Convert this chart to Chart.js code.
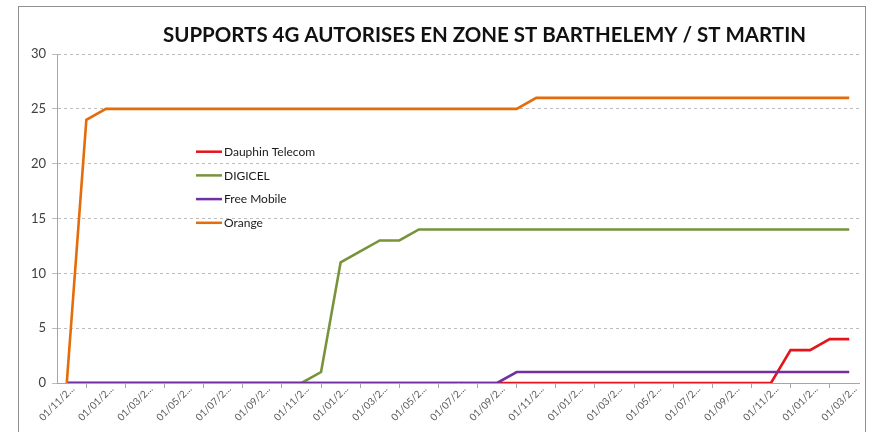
<!DOCTYPE html>
<html>
<head>
<meta charset="utf-8">
<script src="https://cdn.jsdelivr.net/npm/chart.js@4.4.1/dist/chart.umd.min.js"></script>
<style>
  html, body { margin: 0; padding: 0; background: #fff; overflow: hidden; }
  #wrap { position: relative; width: 873px; height: 432px; }
  #frame { position: absolute; left: 18px; top: 6px; width: 848px; height: 440px; border: 1px solid #8f8f8f; box-sizing: border-box; pointer-events: none; }
  canvas { position: absolute; left: 0; top: 0; }
</style>
</head>
<body>
<div id="wrap">
  <canvas id="c" width="873" height="432"></canvas>
  <div id="frame"></div>
</div>
<script>
const chartTitle = "SUPPORTS 4G AUTORISES EN ZONE ST BARTHELEMY / ST MARTIN";

const dates = [
  "01/11/2016","01/12/2016","01/01/2017","01/02/2017","01/03/2017","01/04/2017","01/05/2017","01/06/2017",
  "01/07/2017","01/08/2017","01/09/2017","01/10/2017","01/11/2017","01/12/2017","01/01/2018","01/02/2018",
  "01/03/2018","01/04/2018","01/05/2018","01/06/2018","01/07/2018","01/08/2018","01/09/2018","01/10/2018",
  "01/11/2018","01/12/2018","01/01/2019","01/02/2019","01/03/2019","01/04/2019","01/05/2019","01/06/2019",
  "01/07/2019","01/08/2019","01/09/2019","01/10/2019","01/11/2019","01/12/2019","01/01/2020","01/02/2020",
  "01/03/2020"
];

const seriesNames = ["Dauphin Telecom", "DIGICEL", "Free Mobile", "Orange"];

const dauphin = [0,0,0,0,0,0,0,0,0,0, 0,0,0,0,0,0,0,0,0,0, 0,0,0,0,0,0,0,0,0,0, 0,0,0,0,0,0,0, 3,3,4,4];
const digicel = [0,0,0,0,0,0,0,0,0,0, 0,0,0, 1,11,12,13,13, 14,14,14,14,14,14,14,14,14,14, 14,14,14,14,14,14,14,14,14,14, 14,14,14];
const freeMobile = [0,0,0,0,0,0,0,0,0,0, 0,0,0,0,0,0,0,0,0,0, 0,0,0, 1,1,1,1,1,1,1,1,1,1, 1,1,1,1,1,1,1,1];
const orange = [0,24, 25,25,25,25,25,25,25,25,25,25, 25,25,25,25,25,25,25,25,25,25, 25,25, 26,26,26,26,26,26,26,26,26,26, 26,26,26,26,26,26,26];

const yTicks = [0, 5, 10, 15, 20, 25, 30];

const colors = ["#e3141c", "#77933c", "#7030a0", "#e46c0a"];
const seriesData = [dauphin, digicel, freeMobile, orange];

const titlePlugin = {
  id: 'excelTitle',
  afterDraw(chart) {
    const ctx = chart.ctx;
    ctx.save();
    ctx.font = 'bold 21px Lato, "Open Sans", sans-serif';
    ctx.fillStyle = '#111';
    ctx.textAlign = 'center';
    ctx.textBaseline = 'alphabetic';
    ctx.fillText(chartTitle, 484.5, 42, 643);
    ctx.restore();
  }
};

const legendPlugin = {
  id: 'innerLegend',
  afterDraw(chart) {
    const ctx = chart.ctx;
    const a = chart.chartArea;
    ctx.save();
    ctx.font = '12px Lato, "Open Sans", sans-serif';
    ctx.textBaseline = 'middle';
    ctx.textAlign = 'left';
    chart.data.datasets.forEach((ds, i) => {
      const y = a.top + 97.7 + i * 23.7;
      const x0 = a.left + 139;
      ctx.strokeStyle = ds.borderColor;
      ctx.lineWidth = 2.5;
      ctx.beginPath();
      ctx.moveTo(x0, y);
      ctx.lineTo(x0 + 26, y);
      ctx.stroke();
      ctx.fillStyle = '#1a1a1a';
      ctx.fillText(ds.label, x0 + 28, y + 0.5);
    });
    ctx.restore();
  }
};

new Chart(document.getElementById('c'), {
  type: 'line',
  data: {
    labels: dates,
    datasets: seriesNames.map((name, i) => ({
      label: name,
      data: seriesData[i],
      borderColor: colors[i],
      backgroundColor: colors[i],
      borderWidth: 2.6,
      pointRadius: 0,
      tension: 0,
      order: 4 - i
    }))
  },
  options: {
    responsive: false,
    animation: false,
    events: [],
    layout: { padding: { left: 0, right: 14, top: 54, bottom: 0 } },
    plugins: {
      legend: { display: false },
      title: { display: false },
      tooltip: { enabled: false }
    },
    scales: {
      x: {
        type: 'category',
        offset: true,
        afterFit(scale) { scale.height = 49; },
        grid: {
          display: true,
          offset: true,
          drawOnChartArea: false,
          drawTicks: true,
          tickLength: 5,
          color: '#a6a6a6',
          lineWidth: 1
        },
        border: { display: true, color: '#a6a6a6', width: 1 },
        ticks: {
          autoSkip: false,
          maxRotation: 45,
          minRotation: 45,
          padding: -5,
          labelOffset: 6,
          color: '#595959',
          font: { family: 'Lato, "Open Sans", sans-serif', size: 10 },
          callback(value, index) {
            if (index % 2 !== 0) return null;
            return dates[index].slice(0, 7) + '...';
          }
        }
      },
      y: {
        min: 0,
        max: 30,
        afterFit(scale) { scale.width = 57; },
        afterBuildTicks(scale) { scale.ticks = yTicks.map(v => ({ value: v })); },
        grid: {
          color: '#bdbdbd',
          lineWidth: 1,
          tickLength: 5,
          drawTicks: true
        },
        border: { display: true, color: '#a6a6a6', width: 1, dash: [3, 3] },
        ticks: {
          padding: 6,
          color: '#404040',
          font: { family: 'Lato, "Open Sans", sans-serif', size: 13 }
        }
      }
    }
  },
  plugins: [titlePlugin, legendPlugin]
});
</script>
</body>
</html>
